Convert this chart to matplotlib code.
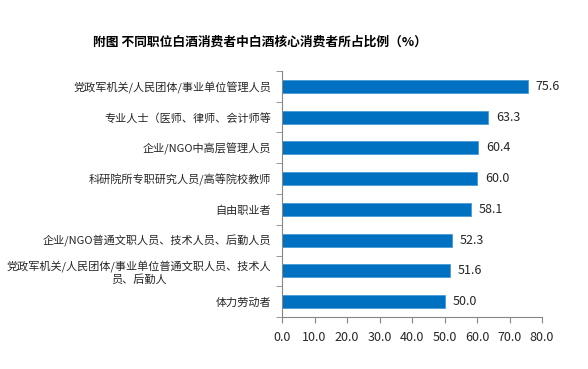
import numpy as np
import matplotlib
matplotlib.use("Agg")
import matplotlib.pyplot as plt

plt.rcParams['font.family'] = ['Noto Sans CJK SC', 'DejaVu Sans']

categories = [
    "党政军机关/人民团体/事业单位管理人员",
    "专业人士（医师、律师、会计师等",
    "企业/NGO中高层管理人员",
    "科研院所专职研究人员/高等院校教师",
    "自由职业者",
    "企业/NGO普通文职人员、技术人员、后勤人员",
    "党政军机关/人民团体/事业单位普通文职人员、技术人\n员、后勤人",
    "体力劳动者",
]
values = [75.6, 63.3, 60.4, 60.0, 58.1, 52.3, 51.6, 50.0]
xticks = [0, 10, 20, 30, 40, 50, 60, 70, 80]

fig = plt.figure(figsize=(5.88, 3.69), dpi=100)
ax = fig.add_axes([0.4796, 0.1409, 0.4422, 0.6667])

y = np.arange(len(categories))
ax.barh(y, values, height=0.43, color="#0070C0", edgecolor="#4A9AD8", linewidth=0.6)
ax.set_ylim(len(categories) - 0.5, -0.5)
ax.set_xlim(0, 80)

ax.set_yticks(y)
ax.set_yticklabels(categories, fontsize=8, color="#262626", multialignment="center")
ax.set_yticks(np.arange(len(categories) + 1) - 0.5, minor=True)
ax.tick_params(axis="y", which="major", length=0, pad=8)
ax.tick_params(axis="y", which="minor", length=4, color="#868686", direction="out")

ax.set_xticks(xticks)
ax.set_xticklabels([f"{v:.1f}" for v in xticks], fontsize=9, color="#262626")
ax.tick_params(axis="x", length=4, color="#868686", direction="out", pad=6)

for s in ["top", "right"]:
    ax.spines[s].set_visible(False)
for s in ["left", "bottom"]:
    ax.spines[s].set_color("#868686")
    ax.spines[s].set_linewidth(0.8)

for yi, v in zip(y, values):
    ax.text(v + 2.5, yi, f"{v:.1f}", va="center", ha="left", fontsize=9, color="#262626")

fig.text(93 / 588, 1 - 42 / 369, "附图 不同职位白酒消费者中白酒核心消费者所占比例（%）",
         fontsize=9.2, fontweight="bold", ha="left", va="center", color="black")

fig.savefig("out.png", dpi=100)
